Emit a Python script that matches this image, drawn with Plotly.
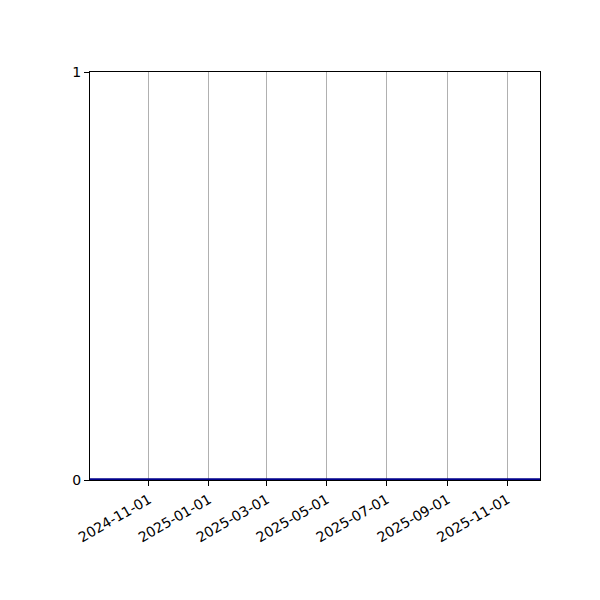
import plotly.graph_objects as go

# Serie piatta a zero sull'intero periodo
dates = ["2024-09-02", "2025-12-04"]
values = [0, 0]

tick_dates = ["2024-11-01", "2025-01-01", "2025-03-01", "2025-05-01",
              "2025-07-01", "2025-09-01", "2025-11-01"]
y_ticks = [0, 1]

fig = go.Figure()
fig.add_trace(go.Scatter(
    x=dates, y=values,
    mode="lines",
    line=dict(color="#00008b", width=3.5),
    showlegend=False,
))

fig.update_layout(
    width=600, height=600,
    paper_bgcolor="white",
    plot_bgcolor="white",
    font=dict(family="DejaVu Sans", size=14, color="black"),
    margin=dict(l=82, r=68, t=64, b=128),
    xaxis=dict(
        range=[dates[0], dates[-1]],
        tickvals=tick_dates,
        ticktext=tick_dates,
        tickangle=-30,
        showgrid=True, gridcolor="#b0b0b0", gridwidth=1,
        showline=True, linecolor="black", linewidth=1.3, mirror=True,
        ticks="outside", ticklen=5, tickcolor="black",
        zeroline=False,
    ),
    yaxis=dict(
        range=[0, 1],
        tickvals=y_ticks,
        showgrid=False,
        showline=True, linecolor="black", linewidth=1.3, mirror=True,
        ticks="outside", ticklen=5, tickcolor="black",
        zeroline=False,
    ),
)

fig.write_html("out.html")
